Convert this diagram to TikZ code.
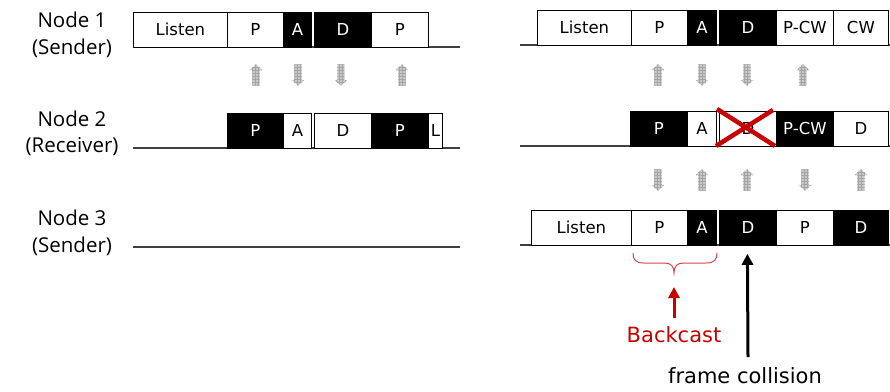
\documentclass[tikz,border=0pt]{standalone}
\usepackage{fontspec}
\setmainfont{DejaVu Sans}
\newfontfamily\labelfont{Open Sans}
\usetikzlibrary{patterns,arrows.meta}

\definecolor{bcred}{RGB}{200,0,0}
\definecolor{bracered}{RGB}{214,72,72}
\definecolor{arrfill}{RGB}{200,200,200}
\definecolor{arrgrid}{RGB}{165,165,165}

\tikzset{
  slot/.style={draw=black, line width=0.8pt, fill=white, text=black,
    anchor=north west, minimum height=35.5pt, inner sep=0pt,
    font=\fontsize{16.5}{16.5}\selectfont},
  dark/.style={fill=black, text=white},
  rowlabel/.style={anchor=base, inner sep=0pt,
    font=\labelfont\fontsize{20.5}{20.5}\selectfont},
  note/.style={anchor=base, inner sep=0pt,
    font=\fontsize{21}{21}\selectfont},
  timeline/.style={line width=1.2pt, draw=black!75},
  xmark/.style={line width=4.5pt, draw=bcred},
  bracepath/.style={line width=1pt, draw=bracered},
  pointer/.style={line width=3pt, -{Triangle[width=11pt,length=11pt]}},
  uparr/.pic={
    \path[fill=arrfill] (-3.6,10.7) -- (-3.6,-5) -- (-6.3,-5) -- (0,-10.7)
      -- (6.3,-5) -- (3.6,-5) -- (3.6,10.7) -- cycle;
    \path[pattern=grid, pattern color=arrgrid] (-3.6,10.7) -- (-3.6,-5)
      -- (-6.3,-5) -- (0,-10.7) -- (6.3,-5) -- (3.6,-5) -- (3.6,10.7) -- cycle;
  },
  downarr/.pic={
    \path[fill=arrfill] (-3.6,-10.7) -- (-3.6,5) -- (-6.3,5) -- (0,10.7)
      -- (6.3,5) -- (3.6,5) -- (3.6,-10.7) -- cycle;
    \path[pattern=grid, pattern color=arrgrid] (-3.6,-10.7) -- (-3.6,5)
      -- (-6.3,5) -- (0,10.7) -- (6.3,5) -- (3.6,5) -- (3.6,-10.7) -- cycle;
  },
}

\begin{document}
\begin{tikzpicture}[x=1pt, y=-1pt]
\useasboundingbox (0,0) rectangle (890,391);

% row labels
\node[rowlabel] (n1a) at (72,27) {Node 1};
\node[rowlabel] (n1b) at (72,54) {(Sender)};
\node[rowlabel] (n2a) at (72,126) {Node 2};
\node[rowlabel] (n2b) at (72,152) {(Receiver)};
\node[rowlabel] (n3a) at (72,225) {Node 3};
\node[rowlabel] (n3b) at (72,252) {(Sender)};

% time lines
\draw[timeline] (133,47) -- (460,47);
\draw[timeline] (133,148) -- (460,148);
\draw[timeline] (133,247) -- (460,247);
\draw[timeline] (520,45) -- (890,45);
\draw[timeline] (520,146) -- (890,146);
\draw[timeline] (520,245) -- (890,245);

% left scenario, node 1
\node[slot, minimum width=94pt] (a1) at (133,11.5) {Listen};
\node[slot, minimum width=56pt] (a2) at (227,11.5) {P};
\node[slot, dark, minimum width=28pt] (a3) at (283,11.5) {A};
\node[slot, dark, minimum width=57pt] (a4) at (314,11.5) {D};
\node[slot, minimum width=57pt] (a5) at (371,11.5) {P};

% left scenario, node 2
\node[slot, dark, minimum width=56pt] (b1) at (227,112.5) {P};
\node[slot, minimum width=28pt] (b2) at (283,112.5) {A};
\node[slot, minimum width=57pt] (b3) at (314,112.5) {D};
\node[slot, dark, minimum width=57pt] (b4) at (371,112.5) {P};
\node[slot, minimum width=14pt] (b5) at (428,112.5) {L};

% right scenario, node 1
\node[slot, minimum width=94pt] (c1) at (537,9.5) {Listen};
\node[slot, minimum width=56pt] (c2) at (631,9.5) {P};
\node[slot, dark, minimum width=29pt] (c3) at (687,9.5) {A};
\node[slot, dark, minimum width=57pt] (c4) at (719,9.5) {D};
\node[slot, minimum width=57pt] (c5) at (776,9.5) {P-CW};
\node[slot, minimum width=55pt] (c6) at (833,9.5) {CW};

% right scenario, node 2
\node[slot, dark, minimum width=57pt] (d1) at (630,110.5) {P};
\node[slot, minimum width=29pt] (d2) at (687,110.5) {A};
\node[slot, minimum width=57pt] (d3) at (719,110.5) {D};
\node[slot, dark, minimum width=57pt] (d4) at (776,110.5) {P-CW};
\node[slot, minimum width=55pt] (d5) at (833,110.5) {D};

% right scenario, node 3
\node[slot, minimum width=100pt] (e1) at (531,209.5) {Listen};
\node[slot, minimum width=56pt] (e2) at (631,209.5) {P};
\node[slot, dark, minimum width=29pt] (e3) at (687,209.5) {A};
\node[slot, dark, minimum width=57pt] (e4) at (719,209.5) {D};
\node[slot, minimum width=57pt] (e5) at (776,209.5) {P};
\node[slot, dark, minimum width=55pt] (e6) at (833,209.5) {D};

% collided data frame
\draw[xmark] (717,109) -- (775,146);
\draw[xmark] (716,146) -- (773,110);

% transmission directions
\pic at (256,75) {uparr};
\pic at (298,75) {downarr};
\pic at (341,75) {downarr};
\pic at (402,75) {uparr};

\pic at (658,75) {uparr};
\pic at (702,75) {downarr};
\pic at (747,75) {downarr};
\pic at (803,75) {uparr};

\pic at (658,180) {downarr};
\pic at (702,180) {uparr};
\pic at (747,180) {uparr};
\pic at (805,180) {downarr};
\pic at (861,180) {uparr};

% backcast brace and annotations
\draw[bracepath] (633,253) .. controls (633,260) and (636,263) .. (644,263)
  -- (664,263) .. controls (671,263) and (674,266) .. (674,273)
  .. controls (674,266) and (677,263) .. (684,263)
  -- (706,263) .. controls (714,263) and (717,260) .. (717,253);
\coordinate (btip) at (674,273);

\node[note, text=bcred] (bc) at (674,342) {Backcast};
\node[note] (fc) at (745,383) {frame collision};

\draw[pointer, draw=bcred] (674,318) -- ([yshift=-14pt]btip);
\draw[pointer, draw=black] (748,357) -- ([xshift=-0.5pt,yshift=-8pt]e4.south);
\end{tikzpicture}
\end{document}
